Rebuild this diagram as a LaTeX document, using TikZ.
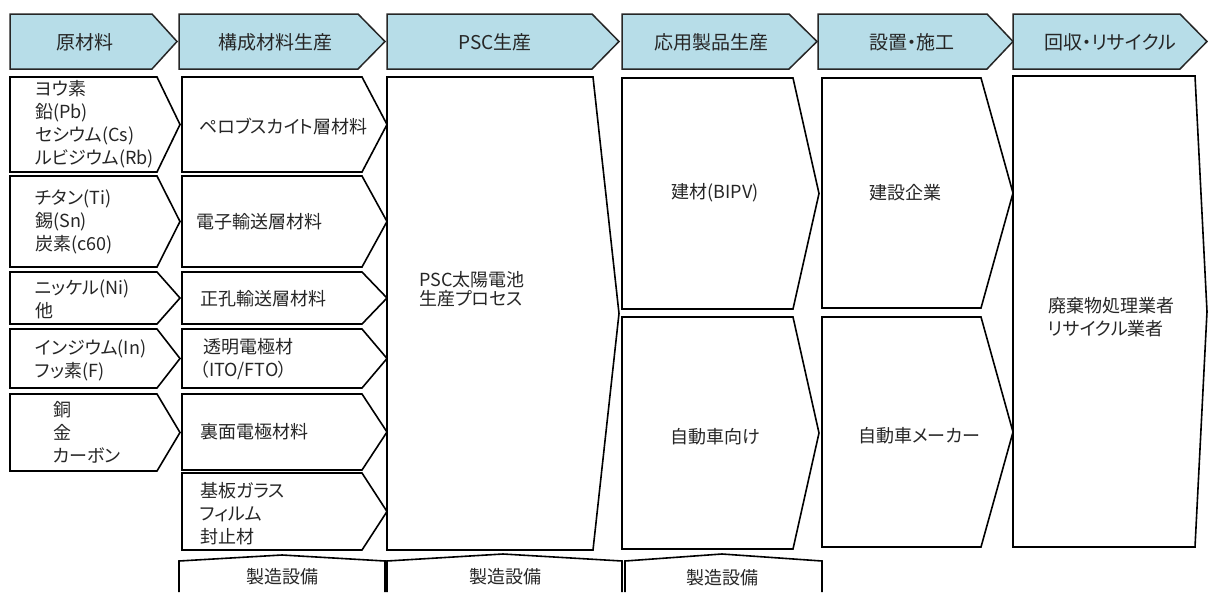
\documentclass[tikz,border=0pt]{standalone}
\usepackage{fontspec}
\setmainfont{Noto Sans CJK JP}[RawFeature=+palt]
\definecolor{hdrblue}{HTML}{B7DDE8}
\definecolor{txt}{HTML}{262626}
\newcommand\fs{\fontsize{18}{23}\selectfont}
\newcommand\fh{\fontsize{19}{23}\selectfont}
\newcommand\chv[6]{% style, left, top, shoulder, bottom, tip
  \draw[#1] (#2,#3) -- (#4,#3) -- (#6,{(#3+#5)/2}) -- (#4,#5) -- (#2,#5) -- cycle;}
\tikzset{
  hdr/.style={draw=black!85, fill=hdrblue, line width=1.5pt, line join=miter},
  bx/.style={draw=black, fill=white, line width=1.6pt, line join=miter},
  lbl/.style={inner sep=0pt, align=left, font=\fs, text=txt},
  lblc/.style={inner sep=0pt, align=center, font=\fs, text=txt},
  hlbl/.style={inner sep=0pt, align=center, font=\fh, text=txt},
}
\begin{document}
\begin{tikzpicture}[x=1pt,y=-1pt]
\useasboundingbox (0,0) rectangle (1208,592);
% header
\chv{hdr}{10}{14}{152}{69}{177}
\chv{hdr}{179}{14}{358}{69}{385}
\chv{hdr}{387}{14}{592}{69}{619}
\chv{hdr}{622}{14}{789}{69}{817}
\chv{hdr}{818}{14}{987}{69}{1013}
\chv{hdr}{1013}{14}{1180}{69}{1207}
\node[hlbl] (h1) at (85,42) {原材料};
\node[hlbl] (h2) at (275,42) {構成材料生産};
\node[hlbl] (h3) at (495,42) {PSC生産};
\node[hlbl] (h4) at (711,42) {応用製品生産};
\node[hlbl] (h5) at (912,42) {設置・施工};
\node[hlbl] (h6) at (1110,42) {回収・リサイクル};
% column 1
\chv{bx}{10}{77}{157}{172}{180}
\chv{bx}{10}{176}{157}{267}{180}
\chv{bx}{10}{272}{157}{324}{180}
\chv{bx}{10}{329}{157}{388}{180}
\chv{bx}{10}{394}{157}{471}{180}
\node[lbl,anchor=west] (r1) at (35,124) {ヨウ素\\鉛(Pb)\\セシウム(Cs)\\ルビジウム(Rb)};
\node[lbl,anchor=west] (r2) at (35,222) {チタン(Ti)\\錫(Sn)\\炭素(c60)};
\node[lbl,anchor=west] (r3) at (35,299) {ニッケル(Ni)\\他};
\node[lbl,anchor=west] (r4) at (35,360) {インジウム(In)\\フッ素(F)};
\node[lbl,anchor=west] (r5) at (53,432) {銅\\金\\カーボン};
% column 2
\chv{bx}{182}{77}{362}{172}{387}
\chv{bx}{182}{176}{362}{267}{387}
\chv{bx}{182}{272}{362}{324}{387}
\chv{bx}{182}{329}{362}{388}{387}
\chv{bx}{182}{394}{362}{470}{387}
\chv{bx}{182}{473}{362}{550}{387}
\node[lbl,anchor=west] (c1) at (199,127) {ペロブスカイト層材料};
\node[lbl,anchor=west] (c2) at (196,222) {電子輸送層材料};
\node[lbl,anchor=west] (c3) at (200,299) {正孔輸送層材料};
\node[lbl,anchor=west] (c4) at (200,359) {\hspace*{3pt}透明電極材\\（ITO/FTO）};
\node[lbl,anchor=west] (c5) at (200,432) {裏面電極材料};
\node[lbl,anchor=west] (c6) at (200,514) {基板ガラス\\フィルム\\封止材};
% column 3
\chv{bx}{387}{77}{593}{550}{619}
\node[lbl,anchor=west,font=\fontsize{18}{19}\selectfont] (p1) at (419,289) {PSC太陽電池\\生産プロセス};
% column 4
\chv{bx}{622}{78}{793}{309}{819}
\chv{bx}{622}{317}{793}{549}{819}
\node[lblc] (a1) at (715,193) {建材(BIPV)};
\node[lblc] (a2) at (715,437) {自動車向け};
% column 5
\chv{bx}{822}{78}{981}{308}{1013}
\chv{bx}{822}{317}{981}{547}{1013}
\node[lblc] (s1) at (905,193) {建設企業};
\node[lblc] (s2) at (919,436) {自動車メーカー};
% column 6
\chv{bx}{1013}{76}{1195}{547}{1207}
\node[lbl,anchor=west] (w1) at (1048,317) {廃棄物処理業者\\リサイクル業者};
% bottom equipment
\draw[bx] (179,592) -- (179,561) -- (282,555) -- (385,561) -- (385,592);
\draw[bx] (387,592) -- (387,561) -- (503,554) -- (622,561) -- (622,592);
\draw[bx] (625,592) -- (625,561) -- (722,554) -- (822,561) -- (822,592);
\node[lblc] (m1) at (282,577) {製造設備};
\node[lblc] (m2) at (505,577) {製造設備};
\node[lblc] (m3) at (722,578) {製造設備};
\end{tikzpicture}
\end{document}
